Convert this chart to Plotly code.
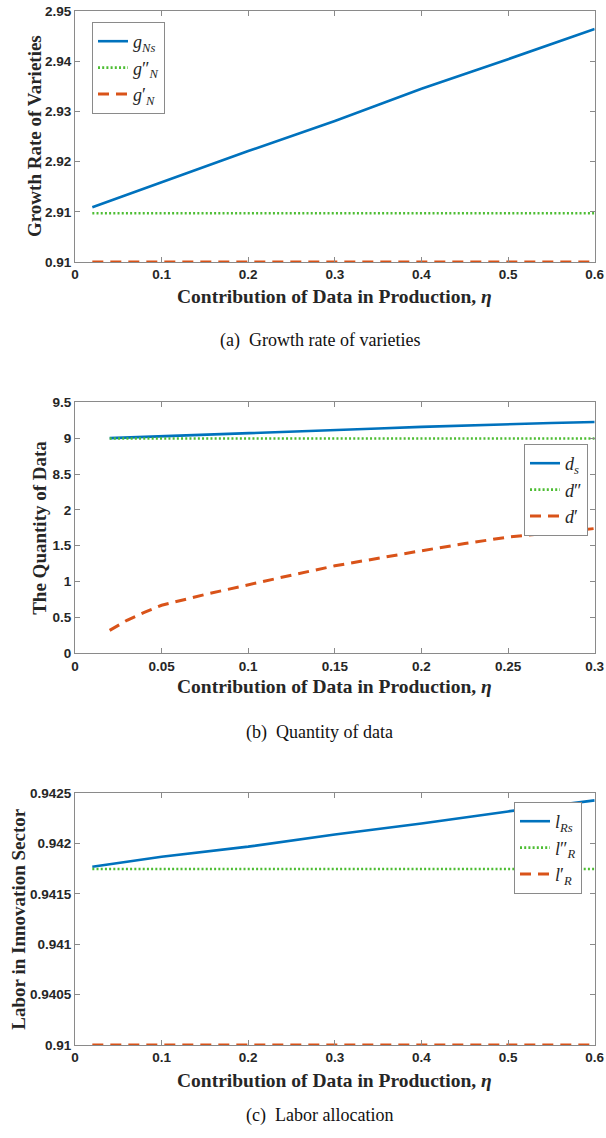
import plotly.graph_objects as go

# ---------------- data ----------------
# (a) growth rate of varieties
eta_a = [0.02, 0.1, 0.2, 0.3, 0.4, 0.5, 0.6]
g_Ns = [2.9109, 2.9159, 2.9221, 2.9281, 2.9345, 2.9404, 2.9464]
g_N2 = [2.9097, 2.9097, 2.9097, 2.9097, 2.9097, 2.9097, 2.9097]
g_N1 = [0.91, 0.91, 0.91, 0.91, 0.91, 0.91, 0.91]
ytick_a = [0.91, 2.91, 2.92, 2.93, 2.94, 2.95]
xtick_a = [0, 0.1, 0.2, 0.3, 0.4, 0.5, 0.6]

# (b) quantity of data
eta_b = [0.02, 0.03, 0.04, 0.05, 0.075, 0.1, 0.125, 0.15, 0.175, 0.2, 0.225, 0.25, 0.275, 0.3]
d_s = [9.0, 9.008, 9.016, 9.025, 9.047, 9.07, 9.09, 9.113, 9.135, 9.158, 9.178, 9.198, 9.212, 9.226]
d_2 = [8.995] * 14
d_1 = [0.32, 0.46, 0.57, 0.67, 0.82, 0.96, 1.09, 1.22, 1.33, 1.43, 1.53, 1.62, 1.68, 1.74]
ytick_b = [0, 0.5, 1, 1.5, 2, 8.5, 9, 9.5]
xtick_b = [0, 0.05, 0.1, 0.15, 0.2, 0.25, 0.3]

# (c) labour allocation
eta_c = [0.02, 0.1, 0.2, 0.3, 0.4, 0.5, 0.6]
l_Rs = [0.94177, 0.94187, 0.94197, 0.94209, 0.94220, 0.94232, 0.94243]
l_R2 = [0.941748] * 7
l_R1 = [0.91] * 7
ytick_c = [0.91, 0.9405, 0.941, 0.9415, 0.942, 0.9425]
xtick_c = [0, 0.1, 0.2, 0.3, 0.4, 0.5, 0.6]


# ---------------- broken-axis transforms ----------------
def ta(v):  # 0.91 shown where 2.90 would be
    return v if v >= 2.9 else v - 0.91 + 2.90


def tb(v):  # values above 2 shifted down by 6 (8.5 -> 2.5)
    return v if v <= 2 else v - 6.0


def tc(v):  # 0.91 shown where 0.9400 would be
    return v if v >= 0.9402 else v - 0.91 + 0.9400


def fmt(v):
    s = ("%.4f" % v).rstrip("0").rstrip(".")
    return s


BLUE = "#0072BD"
GREEN = "#4DBD33"
ORANGE = "#D95319"

fig = go.Figure()


def add_panel(i, x, ys, names, tf, legend):
    styles = [
        dict(color=BLUE, width=2.6, dash="solid"),
        dict(color=GREEN, width=2.6, dash="2px,2.2px"),
        dict(color=ORANGE, width=3, dash="11px,7px"),
    ]
    ax = "" if i == 1 else str(i)
    for y, n, st in zip(ys, names, styles):
        fig.add_trace(go.Scatter(
            x=x, y=[tf(v) for v in y], mode="lines", name=n, line=st,
            xaxis="x" + ax, yaxis="y" + ax, legend=legend,
        ))


add_panel(1, eta_a, [g_Ns, g_N2, g_N1],
          ["<i>g</i><sub><i>Ns</i></sub>", "<i>g</i>″<sub><i>N</i></sub>",
           "<i>g</i>′<sub><i>N</i></sub>"], ta, "legend")
add_panel(2, eta_b, [d_s, d_2, d_1],
          ["<i>d</i><sub><i>s</i></sub>", "<i>d</i>″", "<i>d</i>′"], tb, "legend2")
add_panel(3, eta_c, [l_Rs, l_R2, l_R1],
          ["<i>l</i><sub><i>Rs</i></sub>", "<i>l</i>″<sub><i>R</i></sub>",
           "<i>l</i>′<sub><i>R</i></sub>"], tc, "legend3")

H = 1138.0
W = 606.0


def py(p):
    return 1 - p / H


tickfont = dict(family="Liberation Sans", size=13.5, color="#262626", weight="bold")
axcommon = dict(showline=True, linecolor="#8a8a8a", linewidth=1, mirror="ticks",
                ticks="inside", ticklen=5, tickcolor="#8a8a8a", showgrid=False,
                zeroline=False, tickfont=tickfont, automargin=False)

xdom = [75 / W, 594.7 / W]
panels = [
    (11, 262, [0, 0.6], xtick_a, ytick_a, ta, [2.90, 2.95]),
    (402.3, 653.3, [0, 0.3], xtick_b, ytick_b, tb, [0, 3.5]),
    (793.3, 1045, [0, 0.6], xtick_c, ytick_c, tc, [0.9400, 0.9425]),
]
layout = {}
for i, (top, bot, xr, xt, yt, tf, yr) in enumerate(panels, start=1):
    ax = "" if i == 1 else str(i)
    layout["xaxis" + ax] = dict(axcommon, domain=xdom, range=xr, anchor="y" + ax,
                                tickmode="array", tickvals=xt,
                                ticktext=[fmt(v) for v in xt])
    layout["yaxis" + ax] = dict(axcommon, domain=[py(bot), py(top)], range=yr,
                                anchor="x" + ax, tickmode="array",
                                tickvals=[tf(v) for v in yt],
                                ticktext=[fmt(v) for v in yt])

legfont = dict(family="Liberation Serif", size=18, color="#262626")
legcommon = dict(font=legfont, bgcolor="white", bordercolor="#8a8a8a", borderwidth=1,
                 itemwidth=30, tracegroupgap=0, yanchor="top")

title_font = dict(family="Liberation Serif", size=19, color="#262626", weight="bold")
xtitle_font = dict(family="Liberation Serif", size=19.5, color="#262626", weight="bold")
cap_font = dict(family="Liberation Serif", size=18, color="#111111")

annotations = []
ytitles = [("Growth Rate of Varieties", 34.5, (11 + 262) / 2),
           ("The Quantity of Data", 40, (402.3 + 653.3) / 2),
           ("Labor in Innovation Sector", 18.5, (793.3 + 1045) / 2)]
for t, xc, yc in ytitles:
    annotations.append(dict(text=t, x=xc / W, y=py(yc), xref="paper", yref="paper",
                            textangle=-90, showarrow=False, xanchor="center",
                            yanchor="middle", font=title_font))
for yc in [296.7, 686.7, 1080]:
    annotations.append(dict(text="Contribution of Data in Production, <i>η</i>",
                            x=(75 + 594.7) / 2 / W, y=py(yc), xref="paper", yref="paper",
                            showarrow=False, xanchor="center", yanchor="middle",
                            font=xtitle_font))
for t, yc in [("(a)\u00a0 Growth rate of varieties", 340), ("(b)\u00a0 Quantity of data", 732),
              ("(c)\u00a0 Labor allocation", 1115)]:
    annotations.append(dict(text=t, x=320 / W, y=py(yc), xref="paper", yref="paper",
                            showarrow=False, xanchor="center", yanchor="middle",
                            font=cap_font))

fig.update_layout(
    width=606, height=1138, margin=dict(l=0, r=0, t=0, b=0, autoexpand=False),
    paper_bgcolor="white", plot_bgcolor="white",
    showlegend=True,
    legend=dict(legcommon, x=92 / W, y=py(22), xanchor="left"),
    legend2=dict(legcommon, x=588 / W, y=py(444), xanchor="right"),
    legend3=dict(legcommon, x=582 / W, y=py(802), xanchor="right"),
    annotations=annotations,
    **layout,
)

fig.write_html(
    "out.html",
    config={"displayModeBar": False},
    post_script="document.body.style.margin='0';document.body.style.overflow='hidden';",
)
